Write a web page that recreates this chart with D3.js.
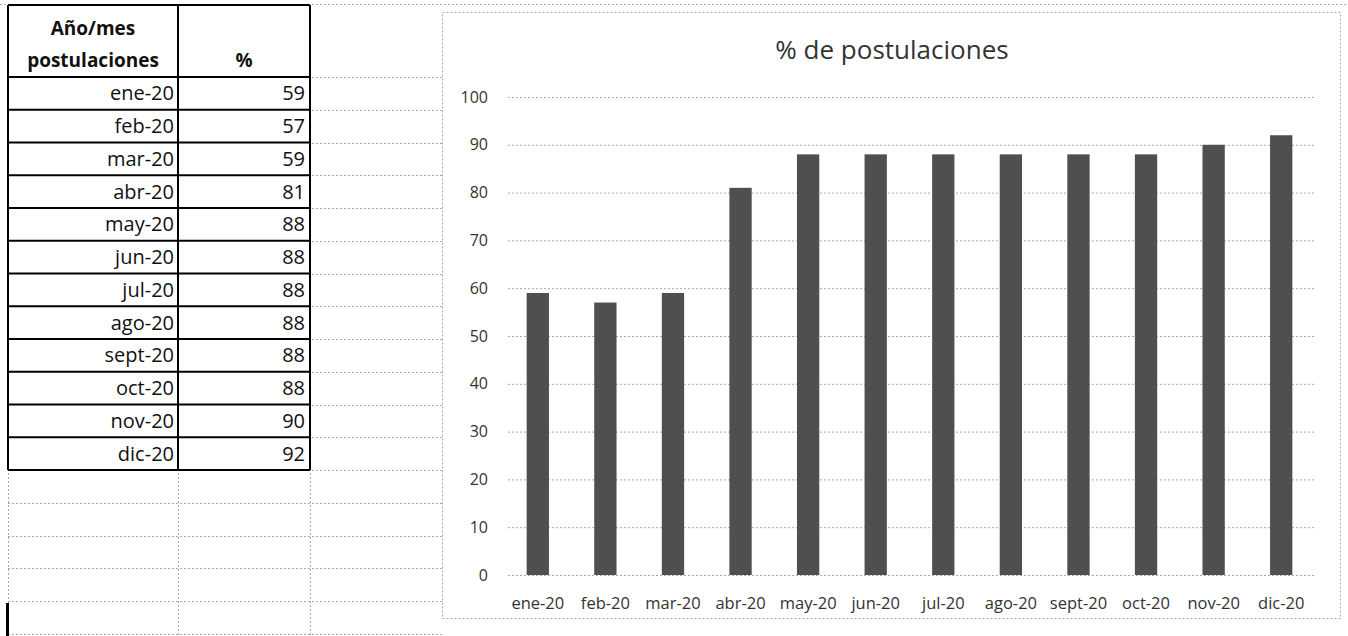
<!DOCTYPE html>
<html>
<head>
<meta charset="utf-8">
<script src="https://cdn.jsdelivr.net/npm/d3@7"></script>
<style>
  body { margin: 0; background: #fff; }
  svg { display: block; }
  text { font-family: "Open Sans", "Noto Sans", sans-serif; }
</style>
</head>
<body>
<svg id="sheet" width="1348" height="636"></svg>
<script>
'use strict';

// Data.
const months = ['ene-20', 'feb-20', 'mar-20', 'abr-20', 'may-20', 'jun-20',
  'jul-20', 'ago-20', 'sept-20', 'oct-20', 'nov-20', 'dic-20'];
const percents = [59, 57, 59, 81, 88, 88, 88, 88, 88, 88, 90, 92];
const yTicks = [0, 10, 20, 30, 40, 50, 60, 70, 80, 90, 100];
const headerLines = ['Año/mes', 'postulaciones'];
const valueHeader = '%';
const chartTitle = '% de postulaciones';

const svg = d3.select('#sheet');
const W = 1348, H = 636;

// Spreadsheet geometry
const colX = [8, 178, 310, 442];
const headerTop = 5;
const headerBottom = 77;
const rowH = 32.75;
const gridColor = '#a8a8a8';

// --- Spreadsheet background gridlines (dotted, like the scan) ---
const sheetG = svg.append('g').attr('class', 'sheet-grid')
  .attr('stroke', gridColor)
  .attr('stroke-width', 1)
  .attr('stroke-dasharray', '2,2');

// top edge of the sheet
sheetG.append('line').attr('x1', 0).attr('x2', W).attr('y1', 4.5).attr('y2', 4.5);

const gridRows = d3.range(0, 18).map(i => headerBottom + i * rowH).filter(y => y < H);
sheetG.selectAll('line.row')
  .data(gridRows)
  .join('line')
  .attr('class', 'row')
  .attr('x1', colX[0]).attr('x2', colX[3])
  .attr('y1', d => Math.round(d) + 0.5).attr('y2', d => Math.round(d) + 0.5);

sheetG.selectAll('line.col')
  .data(colX.slice(0, 3))
  .join('line')
  .attr('class', 'col')
  .attr('x1', d => d + 0.5).attr('x2', d => d + 0.5)
  .attr('y1', headerTop).attr('y2', H);

// small thick mark at the bottom left of the scan
svg.append('rect')
  .attr('x', 6).attr('y', 603).attr('width', 3).attr('height', 33)
  .attr('fill', '#000');

// --- Data table ---
const tableBottom = headerBottom + months.length * rowH;
const tableG = svg.append('g').attr('class', 'table');

tableG.append('rect')
  .attr('x', colX[0]).attr('y', headerTop)
  .attr('width', colX[2] - colX[0]).attr('height', tableBottom - headerTop)
  .attr('fill', '#fff');

const borders = tableG.append('g')
  .attr('stroke', '#000')
  .attr('stroke-width', 2);

borders.selectAll('line.h')
  .data([headerTop].concat(d3.range(0, months.length + 1).map(i => headerBottom + i * rowH)))
  .join('line')
  .attr('class', 'h')
  .attr('x1', colX[0]).attr('x2', colX[2])
  .attr('y1', d => d).attr('y2', d => d);

borders.selectAll('line.v')
  .data(colX.slice(0, 3))
  .join('line')
  .attr('class', 'v')
  .attr('x1', d => d).attr('x2', d => d)
  .attr('y1', headerTop).attr('y2', tableBottom);

// Header text
tableG.selectAll('text.head')
  .data(headerLines)
  .join('text')
  .attr('class', 'head')
  .attr('x', (colX[0] + colX[1]) / 2)
  .attr('y', (d, i) => 35 + i * 32)
  .attr('text-anchor', 'middle')
  .attr('font-size', 19)
  .attr('font-weight', 'bold')
  .attr('fill', '#111')
  .text(d => d);

tableG.append('text')
  .attr('x', (colX[1] + colX[2]) / 2)
  .attr('y', 67)
  .attr('text-anchor', 'middle')
  .attr('font-size', 19)
  .attr('font-weight', 'bold')
  .attr('fill', '#111')
  .text(valueHeader);

const rowsG = tableG.selectAll('g.trow')
  .data(months.map((m, i) => ({ month: m, value: percents[i] })))
  .join('g')
  .attr('class', 'trow')
  .attr('transform', (d, i) => `translate(0,${headerBottom + i * rowH + rowH / 2})`);

rowsG.append('text')
  .attr('x', colX[1] - 4)
  .attr('dy', '0.35em')
  .attr('text-anchor', 'end')
  .attr('font-size', 20)
  .attr('fill', '#111')
  .text(d => d.month);

rowsG.append('text')
  .attr('x', colX[2] - 5)
  .attr('dy', '0.35em')
  .attr('text-anchor', 'end')
  .attr('font-size', 20)
  .attr('fill', '#111')
  .text(d => d.value);

// --- Chart ---
const chart = { left: 442, top: 12, right: 1340, bottom: 618 };
const plot = { left: 504, right: 1315, top: 97, bottom: 575 };
const gridLeft = 508;

const chartG = svg.append('g').attr('class', 'chart');

chartG.append('rect')
  .attr('x', chart.left + 0.5).attr('y', chart.top + 0.5)
  .attr('width', chart.right - chart.left).attr('height', chart.bottom - chart.top)
  .attr('fill', '#fff')
  .attr('stroke', gridColor)
  .attr('stroke-dasharray', '2,2');

chartG.append('text')
  .attr('x', 892)
  .attr('y', 59)
  .attr('text-anchor', 'middle')
  .attr('font-size', 26)
  .attr('fill', '#333')
  .text(chartTitle);

const x = d3.scaleBand()
  .domain(months)
  .range([plot.left, plot.right])
  .paddingInner(0.67)
  .paddingOuter(0.335);

const y = d3.scaleLinear()
  .domain([0, 100])
  .range([plot.bottom, plot.top]);

// Gridlines + y labels through a d3 axis
const yAxis = d3.axisLeft(y)
  .tickValues(yTicks)
  .tickSize(-(plot.right - gridLeft))
  .tickPadding(20)
  .tickFormat(d3.format('d'));

chartG.append('g')
  .attr('class', 'y-axis')
  .attr('transform', `translate(${gridLeft},0)`)
  .call(yAxis)
  .call(g => g.select('.domain').remove())
  .call(g => g.selectAll('.tick line')
    .attr('stroke', gridColor)
    .attr('stroke-dasharray', '2,2'))
  .call(g => g.selectAll('.tick text')
    .attr('font-size', 16)
    .attr('font-family', '"Open Sans", sans-serif')
    .attr('fill', '#333'));

// Bars
chartG.append('g')
  .attr('class', 'bars')
  .selectAll('rect')
  .data(months.map((m, i) => ({ month: m, value: percents[i] })))
  .join('rect')
  .attr('x', d => x(d.month))
  .attr('width', x.bandwidth())
  .attr('y', d => y(d.value))
  .attr('height', d => y(0) - y(d.value))
  .attr('fill', '#4f4f4f');

// X axis labels
const xAxis = d3.axisBottom(x).tickSize(0).tickPadding(22);
chartG.append('g')
  .attr('class', 'x-axis')
  .attr('transform', `translate(0,${plot.bottom})`)
  .call(xAxis)
  .call(g => g.select('.domain').remove())
  .call(g => g.selectAll('.tick text')
    .attr('font-size', 16.5)
    .attr('font-family', '"Open Sans", sans-serif')
    .attr('fill', '#333'));
</script>
</body>
</html>
